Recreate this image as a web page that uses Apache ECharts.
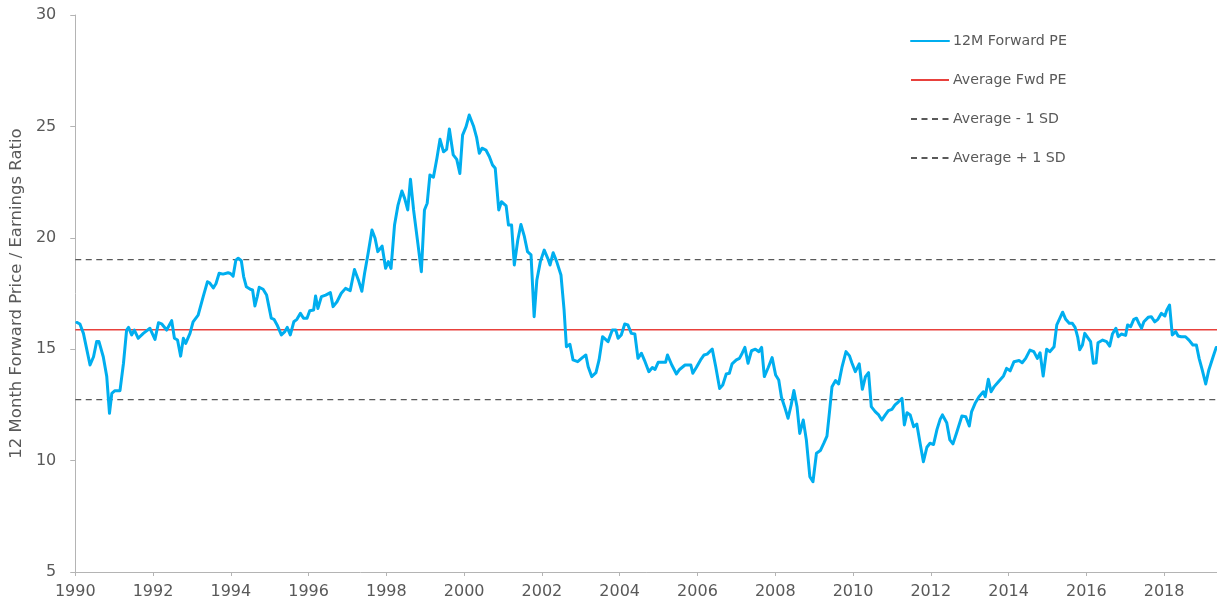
<!DOCTYPE html>
<html>
<head>
<meta charset="utf-8">
<script src="https://cdn.jsdelivr.net/npm/echarts@6/dist/echarts.min.js"></script>
<style>
  html, body { margin: 0; padding: 0; background: #ffffff; }
  #chart { width: 1217px; height: 609px; }
</style>
</head>
<body>
<div id="chart"></div>
<script>
// Decimal-year positions of the points
const years = [
  1990.04, 1990.12, 1990.21, 1990.30, 1990.38, 1990.47, 1990.55, 1990.61, 1990.72, 1990.81, 1990.88, 1990.94,
  1991.02, 1991.15, 1991.24, 1991.32, 1991.37, 1991.45, 1991.52, 1991.62, 1991.75, 1991.92,
  1992.05, 1992.14, 1992.22, 1992.35, 1992.48, 1992.55, 1992.63, 1992.71, 1992.78, 1992.84, 1992.95,
  1993.03, 1993.16, 1993.29, 1993.40, 1993.46, 1993.55, 1993.62, 1993.70, 1993.80, 1993.93, 1993.99,
  1994.06, 1994.13, 1994.19, 1994.27, 1994.33, 1994.40, 1994.50, 1994.56, 1994.62, 1994.68, 1994.73, 1994.83, 1994.92, 1994.98,
  1995.04, 1995.11, 1995.19, 1995.30, 1995.39, 1995.45, 1995.53, 1995.62, 1995.70, 1995.79, 1995.87, 1995.96,
  1996.03, 1996.13, 1996.18, 1996.24, 1996.33, 1996.44, 1996.56, 1996.63, 1996.73, 1996.84, 1996.95,
  1997.07, 1997.18, 1997.28, 1997.37, 1997.44, 1997.53, 1997.63, 1997.71, 1997.78, 1997.89, 1997.98,
  1998.05, 1998.12, 1998.21, 1998.30, 1998.40, 1998.47, 1998.55, 1998.62, 1998.70, 1998.81, 1998.90, 1998.98,
  1999.05, 1999.12, 1999.21, 1999.30, 1999.38, 1999.47, 1999.55, 1999.62, 1999.72, 1999.81, 1999.89, 1999.96,
  2000.05, 2000.13, 2000.24, 2000.32, 2000.39, 2000.46, 2000.56, 2000.65, 2000.73, 2000.80, 2000.89, 2000.96,
  2001.08, 2001.14, 2001.22, 2001.29, 2001.38, 2001.46, 2001.55, 2001.63, 2001.72, 2001.80, 2001.87, 2001.96,
  2002.06, 2002.15, 2002.21, 2002.29, 2002.38, 2002.49, 2002.57, 2002.63, 2002.72, 2002.80, 2002.92,
  2003.04, 2003.13, 2003.19, 2003.28, 2003.39, 2003.47, 2003.56, 2003.70, 2003.81, 2003.90, 2003.96,
  2004.04, 2004.13, 2004.21, 2004.30, 2004.39, 2004.47, 2004.56, 2004.64, 2004.75, 2004.84, 2004.91, 2004.99,
  2005.10, 2005.18, 2005.23, 2005.34, 2005.46, 2005.54, 2005.68, 2005.83, 2005.88, 2005.97,
  2006.08, 2006.17, 2006.25, 2006.38, 2006.47, 2006.57, 2006.65, 2006.74, 2006.82, 2006.89, 2007.00,
  2007.08, 2007.15, 2007.22, 2007.30, 2007.39, 2007.49, 2007.58, 2007.65, 2007.72, 2007.82, 2007.92, 2008.01,
  2008.09, 2008.16, 2008.24, 2008.33, 2008.41, 2008.48, 2008.56, 2008.63, 2008.72, 2008.80, 2008.89, 2008.97,
  2009.06, 2009.16, 2009.25, 2009.33, 2009.40, 2009.46, 2009.55, 2009.63, 2009.72, 2009.82, 2009.91, 2009.97,
  2010.06, 2010.16, 2010.24, 2010.32, 2010.40, 2010.47, 2010.57, 2010.66, 2010.74, 2010.83, 2010.91, 2011.00,
  2011.08, 2011.17, 2011.26, 2011.32, 2011.39, 2011.47, 2011.56, 2011.64, 2011.74, 2011.81, 2011.90, 2011.98,
  2012.07, 2012.16, 2012.24, 2012.30, 2012.41, 2012.49, 2012.57, 2012.66, 2012.80, 2012.90, 2012.99,
  2013.05, 2013.14, 2013.24, 2013.35, 2013.40, 2013.48, 2013.55, 2013.63, 2013.74, 2013.87, 2013.95,
  2014.04, 2014.14, 2014.27, 2014.35, 2014.44, 2014.55, 2014.65, 2014.74, 2014.81, 2014.89, 2014.98,
  2015.06, 2015.17, 2015.24, 2015.32, 2015.39, 2015.47, 2015.56, 2015.64, 2015.71, 2015.78, 2015.83, 2015.90, 2015.96,
  2016.05, 2016.11, 2016.18, 2016.25, 2016.30, 2016.42, 2016.52, 2016.60, 2016.67, 2016.76, 2016.82, 2016.90,
  2017.01, 2017.06, 2017.14, 2017.22, 2017.29, 2017.36, 2017.42, 2017.48, 2017.59, 2017.67, 2017.76, 2017.84, 2017.93,
  2018.02, 2018.07, 2018.14, 2018.21, 2018.30, 2018.36, 2018.44, 2018.55, 2018.64, 2018.74, 2018.83, 2018.90, 2018.98,
  2019.07, 2019.15, 2019.26, 2019.34
];

// 12M forward PE values at those positions
const pe = [
  16.20, 16.13, 15.71, 14.96, 14.29, 14.66, 15.34, 15.34, 14.66, 13.77, 12.12, 13.02,
  13.14, 13.14, 14.37, 15.86, 15.98, 15.64, 15.86, 15.49, 15.71, 15.94,
  15.44, 16.19, 16.14, 15.86, 16.28, 15.49, 15.41, 14.69, 15.49, 15.26, 15.71,
  16.23, 16.53, 17.36, 18.03, 17.97, 17.75, 17.95, 18.41, 18.37, 18.43, 18.40,
  18.28, 19.00, 19.08, 18.97, 18.26, 17.80, 17.69, 17.66, 16.94, 17.36, 17.78, 17.69, 17.43, 16.91,
  16.39, 16.34, 16.09, 15.64, 15.79, 15.98, 15.64, 16.23, 16.34, 16.61, 16.39, 16.39,
  16.73, 16.76, 17.39, 16.83, 17.36, 17.43, 17.54, 16.91, 17.13, 17.51, 17.73,
  17.63, 18.58, 18.11, 17.60, 18.41, 19.30, 20.35, 19.98, 19.38, 19.63, 18.63,
  18.93, 18.63, 20.57, 21.47, 22.10, 21.77, 21.25, 22.63, 21.25, 19.75, 18.48, 21.25,
  21.55, 22.82, 22.72, 23.57, 24.42, 23.86, 23.97, 24.88, 23.72, 23.52, 22.89, 24.61,
  24.99, 25.51, 25.02, 24.51, 23.79, 24.02, 23.94, 23.64, 23.27, 23.12, 21.25, 21.62,
  21.43, 20.57, 20.57, 18.78, 19.90, 20.60, 20.05, 19.38, 19.23, 16.46, 18.11, 18.93,
  19.45, 19.08, 18.78, 19.33, 18.93, 18.33, 16.76, 15.11, 15.22, 14.52, 14.44,
  14.62, 14.74, 14.21, 13.77, 13.95, 14.52, 15.56, 15.34, 15.86, 15.86, 15.49,
  15.64, 16.13, 16.09, 15.71, 15.68, 14.59, 14.82, 14.49, 13.99, 14.18, 14.09, 14.41,
  14.41, 14.41, 14.74, 14.29, 13.89, 14.09, 14.29, 14.29, 13.92, 14.18,
  14.52, 14.74, 14.78, 15.01, 14.21, 13.24, 13.39, 13.89, 13.92, 14.34, 14.52,
  14.59, 14.82, 15.08, 14.37, 14.93, 15.00, 14.89, 15.08, 13.77, 14.18, 14.62, 13.84,
  13.62, 12.84, 12.42, 11.90, 12.50, 13.15, 12.42, 11.22, 11.82, 10.93, 9.28, 9.05,
  10.33, 10.45, 10.78, 11.10, 12.27, 13.32, 13.59, 13.44, 14.22, 14.89, 14.70, 14.39,
  13.99, 14.34, 13.20, 13.77, 13.95, 12.42, 12.20, 12.05, 11.82, 12.05, 12.24, 12.30,
  12.50, 12.64, 12.79, 11.60, 12.15, 12.05, 11.52, 11.64, 10.63, 9.95, 10.60, 10.78,
  10.72, 11.40, 11.85, 12.05, 11.70, 10.93, 10.75, 11.23, 12.00, 11.97, 11.55,
  12.20, 12.57, 12.87, 13.09, 12.87, 13.65, 13.09, 13.32, 13.54, 13.80, 14.14,
  14.03, 14.44, 14.49, 14.39, 14.59, 14.96, 14.89, 14.59, 14.84, 13.80, 15.00,
  14.89, 15.11, 16.09, 16.39, 16.66, 16.34, 16.16, 16.16, 15.98, 15.53, 14.98, 15.19, 15.71,
  15.49, 15.34, 14.37, 14.39, 15.29, 15.41, 15.34, 15.14, 15.68, 15.94, 15.56, 15.68,
  15.62, 16.09, 16.01, 16.34, 16.39, 16.13, 15.94, 16.23, 16.43, 16.46, 16.23, 16.34, 16.61,
  16.49, 16.76, 16.98, 15.64, 15.79, 15.59, 15.56, 15.56, 15.41, 15.19, 15.19, 14.59, 14.07,
  13.44, 14.07, 14.66, 15.08
];

const avgPE = 15.87;
const sdLow = 12.74;
const sdHigh = 19.02;
const xTicks = [1990, 1992, 1994, 1996, 1998, 2000, 2002, 2004, 2006, 2008, 2010, 2012, 2014, 2016, 2018];
const xMin = 1990;
const xMax = 2019.36;
const seriesNames = ['12M Forward PE', 'Average Fwd PE', 'Average - 1 SD', 'Average + 1 SD'];
const yTitle = '12 Month Forward Price / Earnings Ratio';

const peData = years.map((y, i) => [y, pe[i]]);
const flat = v => [[xMin, v], [xMax, v]];

const chart = echarts.init(document.getElementById('chart'), null, { renderer: 'canvas' });
const FONT = '"DejaVu Sans", sans-serif';
const TXT = '#595959';
const AX = '#b4b4b4';

chart.setOption({
  animation: false,
  backgroundColor: '#ffffff',
  grid: { left: 73.5, right: 0, top: 15, bottom: 37, containLabel: false },
  legend: {
    orient: 'vertical',
    left: 905,
    top: 29,
    itemWidth: 38,
    itemHeight: 14,
    itemGap: 25,
    itemStyle: { opacity: 0 },
    textStyle: { color: TXT, fontFamily: FONT, fontSize: 14.2, padding: [0, 0, 0, -1] },
    data: seriesNames
  },
  xAxis: {
    type: 'value',
    min: xMin,
    max: xMax,
    interval: 2,
    splitLine: { show: false },
    axisLine: { show: true, lineStyle: { color: AX, width: 1 } },
    axisTick: { show: true, length: 4, lineStyle: { color: AX }, customValues: xTicks },
    axisLabel: { color: TXT, fontFamily: FONT, fontSize: 16, margin: 12, customValues: xTicks, formatter: v => String(v) }
  },
  yAxis: {
    type: 'value',
    min: 5,
    max: 30,
    interval: 5,
    name: yTitle,
    nameLocation: 'middle',
    nameGap: 47,
    nameRotate: 90,
    nameTextStyle: { color: TXT, fontFamily: FONT, fontSize: 16.5 },
    splitLine: { show: false },
    axisLine: { show: true, lineStyle: { color: AX, width: 1 } },
    axisTick: { show: true, length: 5, lineStyle: { color: AX } },
    axisLabel: { color: TXT, fontFamily: FONT, fontSize: 16, margin: 19 }
  },
  series: [
    {
      name: seriesNames[0], type: 'line', data: peData, symbol: 'none',
      lineStyle: { color: '#00AEEF', width: 3, join: 'round', cap: 'round' },
      itemStyle: { color: '#00AEEF' }, z: 5
    },
    {
      name: seriesNames[1], type: 'line', data: flat(avgPE), symbol: 'none',
      lineStyle: { color: '#E8413C', width: 1.5 }, itemStyle: { color: '#E8413C' }, z: 3
    },
    {
      name: seriesNames[2], type: 'line', data: flat(sdLow), symbol: 'none',
      lineStyle: { color: '#595959', width: 1.3, type: [6, 4.5] }, itemStyle: { color: '#595959' }, z: 3
    },
    {
      name: seriesNames[3], type: 'line', data: flat(sdHigh), symbol: 'none',
      lineStyle: { color: '#595959', width: 1.3, type: [6, 4.5] }, itemStyle: { color: '#595959' }, z: 3
    }
  ]
});
</script>
</body>
</html>
